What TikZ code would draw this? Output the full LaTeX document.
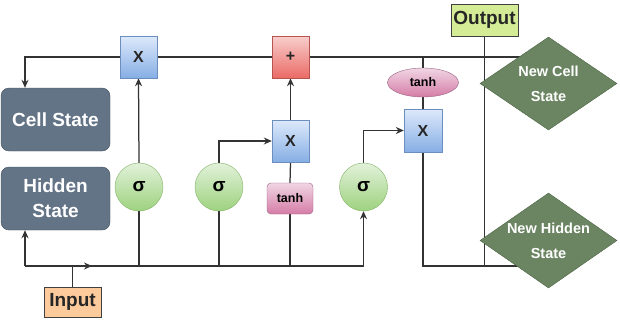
\documentclass[tikz,border=0pt]{standalone}
\usepackage{fontspec}
\setmainfont{Liberation Sans}
\usetikzlibrary{shapes.geometric,arrows.meta,backgrounds}
\definecolor{ln}{HTML}{333333}
\definecolor{slate}{HTML}{637486}
\definecolor{slateb}{HTML}{3E4D5C}
\definecolor{dgreen}{HTML}{6B8563}
\definecolor{dgreenb}{HTML}{4A6342}
\definecolor{blueT}{HTML}{DDE9FB}
\definecolor{blueB}{HTML}{86AEE4}
\definecolor{blueD}{HTML}{6C8EBF}
\definecolor{redT}{HTML}{F8CECC}
\definecolor{redB}{HTML}{EA6B66}
\definecolor{redD}{HTML}{B85450}
\definecolor{grnT}{HTML}{E2F1DA}
\definecolor{grnB}{HTML}{9DD27E}
\definecolor{grnD}{HTML}{82B366}
\definecolor{pnkT}{HTML}{F0D6E4}
\definecolor{pnkB}{HTML}{D57CA6}
\definecolor{pnkD}{HTML}{996185}
\definecolor{outF}{HTML}{D4EC96}
\definecolor{inF}{HTML}{FDCB9B}
\tikzset{
  conn/.style={draw=ln, line width=1.25pt},
  arr/.style={conn, -{Stealth[length=8pt,width=7pt]}},
  statebox/.style={draw=slateb, fill=slate, rounded corners=8pt, minimum width=109pt, minimum height=63pt, inner sep=0pt, text=white, font=\fontsize{19}{25}\selectfont\bfseries, align=center},
  bluebox/.style={draw=blueD, top color=blueT, bottom color=blueB, minimum width=37pt, minimum height=42pt, inner sep=0pt, font=\fontsize{16}{16}\selectfont\bfseries, text=black!85},
  redbox/.style={draw=redD, top color=redT, bottom color=redB, minimum width=37pt, minimum height=42pt, inner sep=0pt, font=\fontsize{16}{16}\selectfont\bfseries, text=black!85},
  sig/.style={circle, draw=grnD, top color=grnT, bottom color=grnB, minimum size=48pt, inner sep=0pt, font=\fontsize{19}{19}\selectfont\bfseries},
  tanhbox/.style={draw=pnkD, top color=pnkT, bottom color=pnkB, rounded corners=4pt, minimum width=46pt, minimum height=31pt, inner sep=0pt, font=\fontsize{12.5}{12.5}\selectfont\bfseries},
  tanhell/.style={ellipse, draw=pnkD, top color=pnkT, bottom color=pnkB, minimum width=71pt, minimum height=29pt, inner sep=0pt, font=\fontsize{12.5}{12.5}\selectfont\bfseries},
  dia/.style={diamond, draw=dgreenb, fill=dgreen, inner sep=0pt, shape aspect=1.47, text=white, font=\fontsize{14.5}{25}\selectfont\bfseries, align=center},
  iobox/.style={draw=black!75, inner sep=0pt, font=\fontsize{19}{19}\selectfont\bfseries, text=black!85}
}
\begin{document}
\begin{tikzpicture}[x=1pt,y=-1pt]
\useasboundingbox (0,0) rectangle (620,322);
% nodes
\node[statebox] (cell) at (55.5,119.5) {Cell State};
\node[statebox] (hidden) at (55.5,198.5) {Hidden\\State};
\node[bluebox] (x1) at (138.5,57) {X};
\node[redbox] (plus) at (290.5,57) {+};
\node[bluebox] (x2) at (290.5,141) {X};
\node[tanhbox] (t1) at (290,198.5) {tanh};
\node[sig] (s1) at (139,187) {σ};
\node[sig] (s2) at (219,187) {σ};
\node[sig] (s3) at (363.5,187) {σ};
\node[bluebox, minimum width=38pt, minimum height=43pt] (x3) at (423,130.5) {X};
\node[tanhell] (t2) at (423,82.5) {tanh};
\node[iobox, fill=outF, minimum width=67pt, minimum height=32pt] (out) at (484.5,20) {Output};
\node[iobox, fill=inF, minimum width=57pt, minimum height=30pt] (in) at (72.5,302) {Input};
\node[dia, minimum width=137pt, minimum height=93pt] (ncs) at (548.5,83.5) {New Cell\\State};
\node[dia, minimum width=137pt, minimum height=95pt] (nhs) at (548.5,240.5) {New Hidden\\State};
% coordinates
\coordinate (ctl) at (25,57);
\coordinate (cbl) at (25,266);
\coordinate (cbr) at (363.5,266);
\coordinate (cmid) at (92,266);
\coordinate (ct2) at (423,57);
\coordinate (cx3b) at (423,266);
\begin{scope}[on background layer]
\draw[arr] (x1.west) -- (ctl) -- (ctl |- cell.north);
\draw[conn] (x1.east) -- (plus.west);
\draw[conn] (plus.east) -- (plus.east -| ncs.center);
\draw[arr] (s1.north) -- (x1.south);
\draw[conn] (s1.south) -- (s1.south |- cbl);
\draw[arr] (s2.north) |- (x2.west);
\draw[conn] (s2.south) -- (s2.south |- cbl);
\draw[arr] (x2.north) -- (plus.south);
\draw[conn] (t1.north) -- (x2.south);
\draw[conn] (t1.south) -- (t1.south |- cbl);
\draw[conn] (cbl) -- (cbr);
\draw[arr] (cbl) -- (cbl |- hidden.south);
\draw[arr] (cbl) -- (cmid);
\draw[arr] (cbr) -- (s3.south);
\draw[conn] (in.north) -- (in.north |- cbl);
\draw[arr] (s3.north) |- (x3.west);
\draw[conn] (ct2) -- (t2.north);
\draw[conn] (t2.south) -- (x3.north);
\draw[conn] (x3.south) -- (cx3b) -- (cx3b -| nhs.center);
\draw[conn] (out.south) -- (out.south |- cbl);
\end{scope}
\end{tikzpicture}
\end{document}
